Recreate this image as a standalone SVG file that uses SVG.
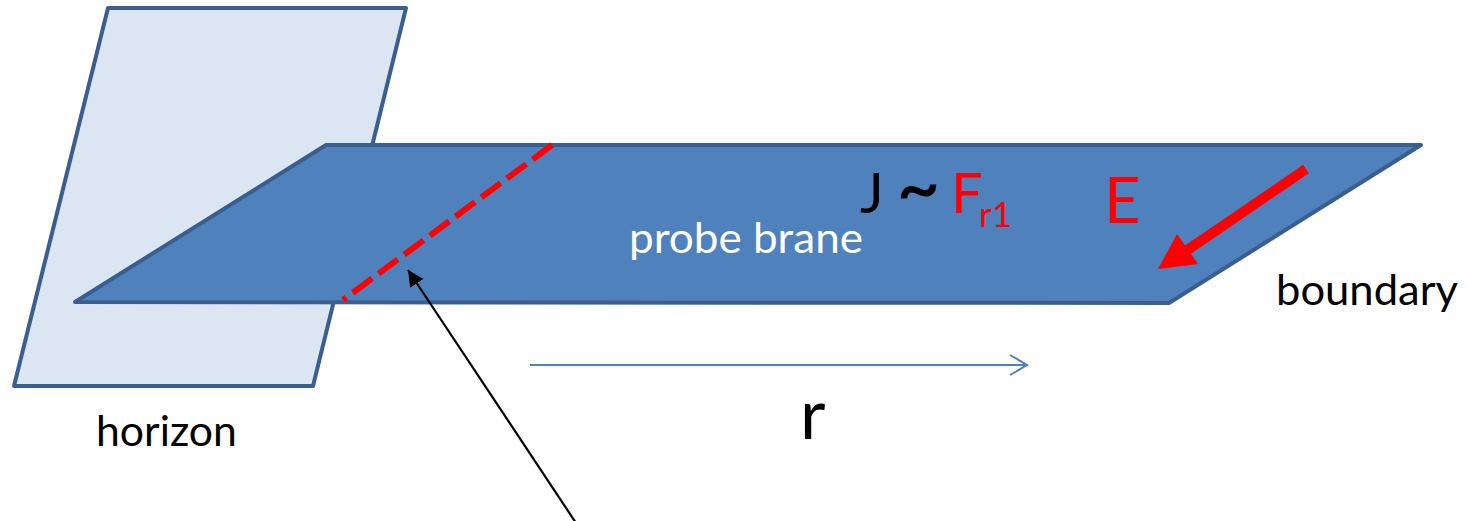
<svg xmlns="http://www.w3.org/2000/svg" width="1466" height="521" viewBox="0 0 1466 521">
<style>
.plane{stroke:#3A5F8F;stroke-width:4;stroke-linejoin:round}
.lbl{font-family:Lato,"Liberation Sans",sans-serif}
</style>
<defs>
<marker id="blackHead" markerUnits="userSpaceOnUse" markerWidth="20" markerHeight="20" refX="16" refY="8" orient="auto">
<path d="M0,0 L16,8 L0,16 Z" fill="#000"/>
</marker>
<marker id="blueHead" markerUnits="userSpaceOnUse" markerWidth="22" markerHeight="26" refX="19" refY="12" orient="auto">
<path d="M2,2 L19,12 L2,22" fill="none" stroke="#4F81BD" stroke-width="2"/>
</marker>
</defs>
<rect width="1466" height="521" fill="#fff"/>
<g id="horizon">
<polygon class="plane" points="108,8 406,8 313,386 14,386" fill="#DCE6F2"/>
</g>
<g id="brane">
<polygon class="plane" points="75,302 326,145 1421,145 1169,303" fill="#4F81BD"/>
</g>
<g id="connectors">
<line id="dashed" x1="552" y1="145" x2="343" y2="300" stroke="#FF0000" stroke-width="6" stroke-dasharray="24 8"/>
<line id="pointer" x1="578" y1="526" x2="408" y2="270" stroke="#000" stroke-width="2.2" marker-end="url(#blackHead)"/>
<line id="r-axis" x1="530" y1="365" x2="1027" y2="365" stroke="#4F81BD" stroke-width="2" marker-end="url(#blueHead)"/>
<g id="E-arrow">
<line x1="1306" y1="169" x2="1186" y2="251" stroke="#FF0000" stroke-width="10"/>
<polygon points="1158,269 1177,234 1198,264" fill="#FF0000"/>
</g>
</g>
<g id="labels" class="lbl">
<text id="probe-label" x="629" y="253" font-size="43" fill="#fff" textLength="234" lengthAdjust="spacingAndGlyphs">probe brane</text>
<text id="boundary-label" x="1276" y="305" font-size="43" fill="#000" textLength="182" lengthAdjust="spacingAndGlyphs">boundary</text>
<text id="horizon-label" x="96" y="446" font-size="43" fill="#000" textLength="141" lengthAdjust="spacingAndGlyphs">horizon</text>
<text id="r-label" x="800" y="439" font-size="70" fill="#000">r</text>
<text id="J-label" y="213" font-size="56"><tspan x="860" fill="#000">J</tspan><tspan x="897" font-size="74" stroke="#000" stroke-width="1" fill="#000">~</tspan><tspan x="951" fill="#FF0000">F</tspan><tspan x="979" y="227" font-size="35" fill="#FF0000">r1</tspan></text>
<text id="E-label" x="1104" y="223" font-size="63" fill="#FF0000">E</text>
</g>
</svg>
